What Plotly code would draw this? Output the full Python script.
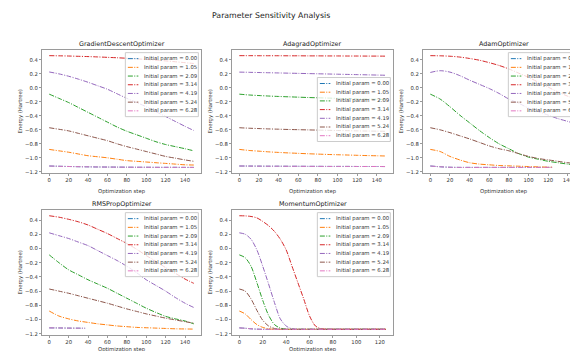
import plotly.graph_objects as go

# The page body has an 8px default margin, so the figure is 8px smaller and all
# pixel positions below are given in page coordinates and shifted by OFF.
PAGE_W, PAGE_H = 578, 351
OFF = 8
W, H = PAGE_W - OFF, PAGE_H - OFF
FONT = "DejaVu Sans"

# ---------------- data ----------------
params = [0.00, 1.05, 2.09, 3.14, 4.19, 5.24, 6.28]
line_colors = ["#1f77b4", "#ff7f0e", "#2ca02c", "#d62728", "#9467bd", "#8c564b", "#e377c2"]
optimizer_names = ["GradientDescentOptimizer", "AdagradOptimizer", "AdamOptimizer",
                   "RMSPropOptimizer", "MomentumOptimizer"]

steps_full = [0, 10, 20, 30, 40, 50, 60, 70, 80, 90, 100, 110, 120, 130, 140, 149]
steps_adam_short = [0, 10, 20, 30, 40, 50, 60, 70, 80, 90, 100, 110, 120, 124]
steps_rms_short = [0, 10, 20, 30, 37]
steps_momentum = [0, 5, 10, 15, 20, 25, 30, 35, 40, 45, 50, 55, 60, 65, 70, 80, 90, 100, 110, 125]

x_ticks_full = [0, 20, 40, 60, 80, 100, 120, 140]
x_ticks_momentum = [0, 20, 40, 60, 80, 100, 120]
y_ticks = [-1.2, -1.0, -0.8, -0.6, -0.4, -0.2, 0.0, 0.2, 0.4]

gd_energy = [
    [-1.117, -1.121, -1.124, -1.127, -1.129, -1.131, -1.132, -1.133, -1.134, -1.135, -1.135, -1.136, -1.136, -1.136, -1.137, -1.137],
    [-0.880, -0.900, -0.920, -0.945, -0.970, -0.985, -1.000, -1.020, -1.040, -1.050, -1.060, -1.070, -1.080, -1.090, -1.100, -1.103],
    [-0.090, -0.150, -0.210, -0.280, -0.350, -0.420, -0.490, -0.560, -0.620, -0.670, -0.720, -0.770, -0.810, -0.840, -0.870, -0.900],
    [0.460, 0.458, 0.455, 0.451, 0.447, 0.442, 0.436, 0.430, 0.423, 0.415, 0.406, 0.396, 0.385, 0.373, 0.360, 0.348],
    [0.227, 0.200, 0.166, 0.125, 0.080, 0.030, -0.020, -0.085, -0.150, -0.210, -0.270, -0.340, -0.410, -0.480, -0.550, -0.610],
    [-0.570, -0.592, -0.615, -0.650, -0.685, -0.720, -0.755, -0.800, -0.840, -0.875, -0.910, -0.945, -0.980, -1.005, -1.030, -1.050],
    [-1.117, -1.121, -1.124, -1.127, -1.129, -1.131, -1.132, -1.133, -1.134, -1.135, -1.135, -1.136, -1.136, -1.136, -1.137, -1.137],
]
gd_steps = [steps_full] * 7

adagrad_energy = [
    [-1.117, -1.118, -1.119, -1.120, -1.120, -1.121, -1.121, -1.122, -1.122, -1.123, -1.123, -1.123, -1.124, -1.124, -1.124, -1.125],
    [-0.880, -0.895, -0.905, -0.915, -0.923, -0.930, -0.936, -0.942, -0.947, -0.952, -0.956, -0.960, -0.964, -0.968, -0.971, -0.974],
    [-0.090, -0.102, -0.110, -0.117, -0.123, -0.128, -0.133, -0.138, -0.142, -0.146, -0.150, -0.154, -0.157, -0.160, -0.163, -0.166],
    [0.460, 0.460, 0.459, 0.459, 0.459, 0.458, 0.458, 0.457, 0.457, 0.456, 0.456, 0.455, 0.455, 0.454, 0.454, 0.453],
    [0.225, 0.222, 0.219, 0.216, 0.213, 0.210, 0.207, 0.204, 0.201, 0.198, 0.195, 0.192, 0.189, 0.186, 0.183, 0.180],
    [-0.570, -0.577, -0.582, -0.587, -0.591, -0.595, -0.598, -0.601, -0.604, -0.607, -0.610, -0.612, -0.615, -0.617, -0.619, -0.621],
    [-1.117, -1.118, -1.119, -1.120, -1.120, -1.121, -1.121, -1.122, -1.122, -1.123, -1.123, -1.123, -1.124, -1.124, -1.124, -1.125],
]
adagrad_steps = [steps_full] * 7

adam_energy = [
    [-1.117, -1.128, -1.135, -1.137, -1.137, -1.137, -1.137, -1.137, -1.137, -1.137, -1.137, -1.137, -1.137, -1.137],
    [-0.880, -0.910, -0.980, -1.030, -1.070, -1.090, -1.100, -1.110, -1.115, -1.120, -1.125, -1.130, -1.133, -1.134],
    [-0.090, -0.160, -0.270, -0.390, -0.500, -0.610, -0.710, -0.800, -0.870, -0.940, -0.990, -1.020, -1.050, -1.070, -1.090, -1.100],
    [0.460, 0.458, 0.452, 0.440, 0.420, 0.395, 0.360, 0.320, 0.270, 0.210, 0.150, 0.080, 0.010, -0.060, -0.120, -0.170],
    [0.220, 0.245, 0.225, 0.175, 0.110, 0.050, -0.010, -0.080, -0.160, -0.220, -0.290, -0.340, -0.390, -0.440, -0.480, -0.520],
    [-0.570, -0.600, -0.640, -0.685, -0.730, -0.780, -0.830, -0.870, -0.900, -0.940, -0.980, -1.010, -1.030, -1.050, -1.070, -1.080],
    [-1.117, -1.128, -1.135, -1.137, -1.137, -1.137, -1.137, -1.137, -1.137, -1.137, -1.137, -1.137, -1.137, -1.137],
]
adam_steps = [steps_adam_short, steps_adam_short, steps_full, steps_full, steps_full, steps_full, steps_adam_short]

rms_energy = [
    [-1.117, -1.118, -1.120, -1.121, -1.122],
    [-0.880, -0.950, -0.990, -1.020, -1.040, -1.060, -1.075, -1.090, -1.100, -1.110, -1.115, -1.120, -1.125, -1.130, -1.132, -1.134],
    [-0.090, -0.200, -0.300, -0.370, -0.440, -0.500, -0.560, -0.630, -0.700, -0.770, -0.840, -0.900, -0.955, -0.990, -1.020, -1.060],
    [0.460, 0.440, 0.410, 0.375, 0.330, 0.270, 0.210, 0.140, 0.070, -0.010, -0.100, -0.180, -0.270, -0.350, -0.430, -0.490],
    [0.220, 0.180, 0.140, 0.090, 0.040, -0.030, -0.100, -0.170, -0.250, -0.340, -0.440, -0.520, -0.600, -0.690, -0.770, -0.830],
    [-0.570, -0.600, -0.630, -0.665, -0.700, -0.735, -0.770, -0.810, -0.850, -0.885, -0.920, -0.950, -0.980, -1.005, -1.030, -1.050],
    [-1.117, -1.118, -1.120, -1.121, -1.122],
]
rms_steps = [steps_rms_short, steps_full, steps_full, steps_full, steps_full, steps_full, steps_rms_short]

momentum_energy = [
    [-1.117, -1.122, -1.130, -1.135, -1.137, -1.137, -1.137, -1.137, -1.137, -1.137, -1.137, -1.137, -1.137, -1.137, -1.137, -1.137, -1.137, -1.137, -1.137, -1.137],
    [-0.880, -0.920, -1.000, -1.070, -1.110, -1.130, -1.137, -1.137, -1.137, -1.137, -1.137, -1.137, -1.137, -1.137, -1.137, -1.137, -1.137, -1.137, -1.137, -1.137],
    [-0.090, -0.130, -0.250, -0.480, -0.730, -0.940, -1.070, -1.120, -1.135, -1.137, -1.137, -1.137, -1.137, -1.137, -1.137, -1.137, -1.137, -1.137, -1.137, -1.137],
    [0.460, 0.458, 0.450, 0.430, 0.380, 0.320, 0.240, 0.130, -0.020, -0.250, -0.480, -0.710, -0.950, -1.090, -1.130, -1.137, -1.137, -1.137, -1.137, -1.137],
    [0.220, 0.200, 0.130, -0.020, -0.250, -0.500, -0.760, -0.990, -1.090, -1.130, -1.137, -1.137, -1.137, -1.137, -1.137, -1.137, -1.137, -1.137, -1.137, -1.137],
    [-0.570, -0.600, -0.710, -0.870, -1.010, -1.090, -1.125, -1.135, -1.137, -1.137, -1.137, -1.137, -1.137, -1.137, -1.137, -1.137, -1.137, -1.137, -1.137, -1.137],
    [-1.117, -1.122, -1.130, -1.135, -1.137, -1.137, -1.137, -1.137, -1.137, -1.137, -1.137, -1.137, -1.137, -1.137, -1.137, -1.137, -1.137, -1.137, -1.137, -1.137],
]
momentum_steps = [steps_momentum] * 7

# ---------------- layout geometry (page pixels) ----------------
panels = [
    (optimizer_names[0], gd_energy, gd_steps, (42, 201), (50, 173), [-7.45, 156.45], x_ticks_full, "upper"),
    (optimizer_names[1], adagrad_energy, adagrad_steps, (232, 393), (50, 173), [-7.45, 156.45], x_ticks_full, "center"),
    (optimizer_names[2], adam_energy, adam_steps, (423, 584), (50, 173), [-7.45, 156.45], x_ticks_full, "upper"),
    (optimizer_names[3], rms_energy, rms_steps, (42, 201), (210, 335), [-7.45, 156.45], x_ticks_full, "upper"),
    (optimizer_names[4], momentum_energy, momentum_steps, (232, 393), (210, 335), [-6.25, 131.25], x_ticks_momentum, "upper"),
]
y_range = [-1.217, 0.541]


def px_x(p):
    return (p - OFF) / W


def px_y(p):
    return 1 - (p - OFF) / H


fig = go.Figure()
shapes = []
annotations = []
layout_axes = {}

DASH = "5px,1.4px,1px,1.4px"
TXT = "#333333"
SPINE = "#9a9a9a"

for i, (name, energies, steps, (l, r), (t, b), xr, xt, loc) in enumerate(panels):
    k = "" if i == 0 else str(i + 1)
    vis_r = min(r, PAGE_W)
    xr_vis = [xr[0], xr[0] + (xr[1] - xr[0]) * (vis_r - l) / (r - l)]
    for j, p in enumerate(params):
        fig.add_trace(go.Scatter(
            x=steps[j], y=energies[j], mode="lines",
            line=dict(color=line_colors[j], width=1, dash=DASH, shape="spline", smoothing=0.8),
            xaxis="x" + k, yaxis="y" + k, showlegend=False,
            name=f"Initial param = {p:.2f}",
        ))
    layout_axes["xaxis" + k] = dict(
        domain=[px_x(l), min(px_x(vis_r), 1.0)], range=xr_vis, anchor="y" + k,
        tickvals=xt, ticktext=[str(v) for v in xt],
        showline=True, linecolor=SPINE, linewidth=1, mirror=True,
        ticks="outside", ticklen=2, tickwidth=1, tickcolor=SPINE,
        tickfont=dict(size=5.3, family=FONT, color=TXT),
        showgrid=False, zeroline=False, automargin=False,
    )
    layout_axes["yaxis" + k] = dict(
        domain=[px_y(b), px_y(t)], range=y_range, anchor="x" + k,
        tickvals=y_ticks, ticktext=[f"{v:.1f}".replace("-", "\u2212") for v in y_ticks],
        showline=True, linecolor=SPINE, linewidth=1, mirror=(r <= PAGE_W),
        ticks="outside", ticklen=2, tickwidth=1, tickcolor=SPINE,
        tickfont=dict(size=5.3, family=FONT, color=TXT),
        showgrid=False, zeroline=False, automargin=False,
    )
    annotations.append(dict(text=name, x=px_x((l + r) / 2), y=px_y(t - 6), xref="paper", yref="paper",
                            showarrow=False, xanchor="center", yanchor="middle",
                            font=dict(size=6.4, family=FONT, color="#222")))
    annotations.append(dict(text="Optimization step", x=px_x((l + r) / 2), y=px_y(b + (18 if t < 100 else 14)),
                            xref="paper", yref="paper", showarrow=False, xanchor="center", yanchor="middle",
                            font=dict(size=5.3, family=FONT, color=TXT)))
    annotations.append(dict(text="Energy (Hartree)", x=px_x(l - 22), y=px_y((t + b) / 2), xref="paper", yref="paper",
                            showarrow=False, xanchor="center", yanchor="middle", textangle=-90,
                            font=dict(size=5.3, family=FONT, color=TXT)))
    # matplotlib-like legend
    bw, bh = 73, 64
    br = r - 2.65
    bl = br - bw
    bt = t + 2.65 if loc == "upper" else (t + b) / 2 - 2 - bh / 2
    shapes.append(dict(type="rect", xref="paper", yref="paper",
                       x0=px_x(bl), x1=px_x(br), y0=px_y(bt + bh), y1=px_y(bt),
                       fillcolor="rgba(255,255,255,0.8)", line=dict(color="#cccccc", width=1), layer="above"))
    for j, p in enumerate(params):
        ey = bt + 6 + j * 8.7
        shapes.append(dict(type="line", xref="paper", yref="paper",
                           x0=px_x(bl + 2.5), x1=px_x(bl + 13), y0=px_y(ey), y1=px_y(ey),
                           line=dict(color=line_colors[j], width=1, dash=DASH), layer="above"))
        annotations.append(dict(text=f"Initial param = {p:.2f}", x=px_x(bl + 16.5), y=px_y(ey),
                                xref="paper", yref="paper", showarrow=False, xanchor="left", yanchor="middle",
                                font=dict(size=5.3, family=FONT, color=TXT)))

annotations.append(dict(text="Parameter Sensitivity Analysis", x=px_x(271), y=px_y(15), xref="paper", yref="paper",
                        showarrow=False, xanchor="center", yanchor="middle",
                        font=dict(size=7.8, family=FONT, color="#222")))

fig.update_layout(
    width=W, height=H, margin=dict(l=0, r=0, t=0, b=0),
    paper_bgcolor="white", plot_bgcolor="white",
    showlegend=False, shapes=shapes, annotations=annotations,
    font=dict(family=FONT),
    **layout_axes,
)

fig.write_html("out.html")
